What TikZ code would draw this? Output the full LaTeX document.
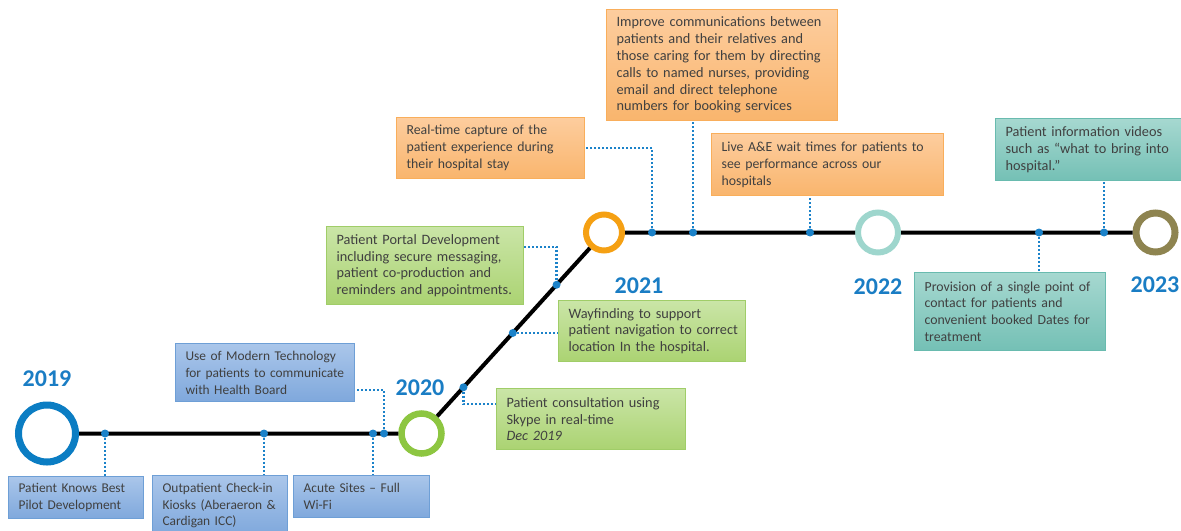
\documentclass[tikz,border=0pt]{standalone}
\usepackage{fontspec}
\setmainfont{Carlito}
\usetikzlibrary{calc,positioning}
\definecolor{txtgray}{HTML}{404040}
\definecolor{yrblue}{HTML}{1A7DC4}
\definecolor{linkblue}{HTML}{1B82C9}
\definecolor{ringA}{HTML}{0B7DC3}
\definecolor{ringB}{HTML}{8DC641}
\definecolor{ringC}{HTML}{F5A013}
\definecolor{ringD}{HTML}{9ED6CD}
\definecolor{ringE}{HTML}{8E8450}
\definecolor{bluetop}{HTML}{AAC6EA}
\definecolor{bluebot}{HTML}{7FA8DC}
\definecolor{bluebd}{HTML}{6E9FD6}
\definecolor{greentop}{HTML}{CAE5A7}
\definecolor{greenbot}{HTML}{ABD372}
\definecolor{greenbd}{HTML}{A0CD68}
\definecolor{orangetop}{HTML}{FDCD9E}
\definecolor{orangebot}{HTML}{F9B56D}
\definecolor{orangebd}{HTML}{F9AE5B}
\definecolor{tealtop}{HTML}{A6D8D0}
\definecolor{tealbot}{HTML}{74C0B5}
\definecolor{tealbd}{HTML}{69BBAF}
\tikzset{
  evtbox/.style={draw, line width=0.6pt, anchor=north west, align=left,
    inner xsep=0pt, inner ysep=2pt, text=txtgray,
    font=\fontsize{7.15}{8.4}\selectfont,
    execute at begin node={\leftskip=5pt\hyphenpenalty=10000}},
  tight/.style={font=\fontsize{6.9}{8.4}\selectfont},
  bluebox/.style={evtbox, draw=bluebd, top color=bluetop, bottom color=bluebot,
    font=\fontsize{6.7}{8.4}\selectfont},
  greenbox/.style={evtbox, draw=greenbd, top color=greentop, bottom color=greenbot},
  orangebox/.style={evtbox, draw=orangebd, top color=orangetop, bottom color=orangebot},
  tealbox/.style={evtbox, draw=tealbd, top color=tealtop, bottom color=tealbot},
  yearring/.style={circle, draw=#1, fill=white, inner sep=0pt},
  yearlbl/.style={font=\fontsize{12}{14}\bfseries\selectfont, text=yrblue},
  evtdot/.style={circle, fill=linkblue, inner sep=0pt, minimum size=4pt},
  link/.style={linkblue, line width=1.2pt, dash pattern=on 1pt off 1pt},
  timeline/.style={black, line width=2pt}
}
\begin{document}
\begin{tikzpicture}[x=0.5pt,y=-0.5pt]
\useasboundingbox (0,0) rectangle (1181,530);
\clip (0,0) rectangle (1181,530);

% year rings
\node[yearring=ringA, line width=3.5pt, minimum size=28.5pt] (y19) at (47,433.5) {};
\node[yearring=ringB, line width=3.25pt, minimum size=20pt] (y20) at (421.5,433.5) {};
\node[yearring=ringC, line width=3pt, minimum size=18pt] (y21) at (604,232.5) {};
\node[yearring=ringD, line width=3pt, minimum size=20pt] (y22) at (878,232.5) {};
\node[yearring=ringE, line width=3.5pt, minimum size=19.5pt] (y23) at (1155.5,232.5) {};
\draw[timeline] (y19) -- (y20) -- (y21) -- (y22) -- (y23);

% year labels
\node[yearlbl] (l19) at (47,379) {2019};
\node[yearlbl] (l20) at (420,388) {2020};
\node[yearlbl] (l21) at (639,286) {2021};
\node[yearlbl] (l22) at (878,287) {2022};
\node[yearlbl] (l23) at (1155,285) {2023};

% event boxes
\node[bluebox, minimum width=67.5pt, minimum height=21pt, text width=67.5pt] (b1) at (8,476)
  {Patient Knows Best\\Pilot Development};
\node[bluebox, minimum width=67.5pt, minimum height=30pt, text width=67.5pt] (b2) at (152,475)
  {Outpatient Check-in\\Kiosks (Aberaeron \&\\Cardigan ICC)};
\node[bluebox, minimum width=68pt, minimum height=21pt, text width=68pt] (b3) at (293,475)
  {Acute Sites -- Full\\Wi-Fi};
\node[bluebox, minimum width=89.5pt, minimum height=29pt, text width=89.5pt] (b4) at (175,343)
  {Use of Modern Technology\\for patients to communicate\\with Health Board};
\node[greenbox, minimum width=94.5pt, minimum height=30.5pt, text width=94.5pt] (b5) at (496,388)
  {Patient consultation using\\Skype in real-time\\\textit{Dec 2019}};
\node[greenbox, minimum width=98.5pt, minimum height=39pt, text width=98.5pt] (b6) at (326,226)
  {Patient Portal Development\\including secure messaging,\\patient co-production and\\reminders and appointments.};
\node[greenbox, minimum width=93.5pt, minimum height=30.5pt, text width=93.5pt] (b7) at (558,300)
  {Wayfinding to support\\patient navigation to correct\\location In the hospital.};
\node[orangebox, tight, minimum width=94pt, minimum height=30.5pt, text width=94pt] (b8) at (396,117)
  {Real-time capture of the\\patient experience during\\their hospital stay};
\node[orangebox, minimum width=115.5pt, minimum height=55.5pt, text width=115.5pt] (b9) at (606,9)
  {Improve communications between\\patients and their relatives and\\those caring for them by directing\\calls to named nurses, providing\\email and direct telephone\\numbers for booking services};
\node[orangebox, tight, minimum width=116pt, minimum height=31pt, text width=116pt] (b10) at (711,133)
  {Live A\&E wait times for patients to\\see performance across our\\hospitals};
\node[tealbox, minimum width=95pt, minimum height=31pt, text width=95pt] (b11) at (995,118)
  {Patient information videos\\such as ``what to bring into\\hospital.''};
\node[tealbox, tight, minimum width=95.5pt, minimum height=39pt, text width=95.5pt] (b12) at (914,272)
  {Provision of a single point of\\contact for patients and\\convenient booked Dates for\\treatment};

% dots on the time line
\foreach[count=\i] \x in {105,264,373,384}{ % lower stretch
\node[evtdot] (d\i) at (\x,433.5) {};
}
\foreach[count=\i from 5] \p in {0.23,0.5,0.74}{ % rising stretch
\node[evtdot] (d\i) at ($(y20)!\p!(y21)$) {};
}
\foreach[count=\i from 8] \x in {652,693,810,1039,1104}{ % upper stretch
\node[evtdot] (d\i) at (\x,232.5) {};
}

% bend points of the elbow links
\coordinate (k4) at ($(b4.south east)+(0,-12)$);
\coordinate (k5) at ($(b5.north west)+(0,16)$);
\coordinate (k6) at ($(b6.north east)+(0,21)$);

% dotted links
\draw[link] (d1) -- (d1 |- b1.north);
\draw[link] (d2) -- (d2 |- b2.north);
\draw[link] (d3) -- (d3 |- b3.north);
\draw[link] (d4) |- (k4);
\draw[link] (d5) |- (k5);
\draw[link] (d6) -- (d6 -| b7.west);
\draw[link] (d7) |- (k6);
\draw[link] (d8) |- (b8.east);
\draw[link] (d9) -- (d9 |- b9.south);
\draw[link] (d10) -- (d10 |- b10.south);
\draw[link] (d11) -- (d11 |- b12.north);
\draw[link] (d12) -- (d12 |- b11.south);
\end{tikzpicture}
\end{document}
